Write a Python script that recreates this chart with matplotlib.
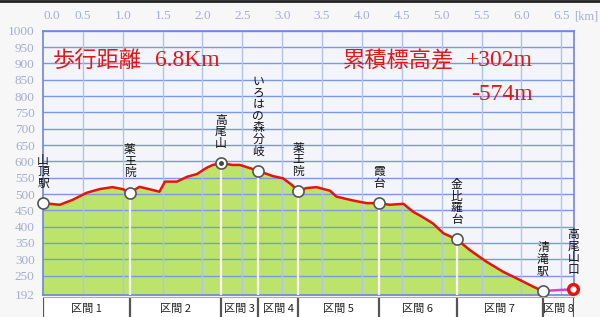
import numpy as np
import matplotlib
matplotlib.use("Agg")
import matplotlib.pyplot as plt

plt.rcParams['font.family'] = ['Noto Sans CJK JP', 'DejaVu Sans']

# =========================
# Data
# =========================
dist_km = [0.00, 0.21, 0.37, 0.55, 0.71, 0.87, 1.00, 1.09, 1.21, 1.33, 1.46, 1.53,
           1.68, 1.81, 1.93, 2.05, 2.13, 2.23, 2.38, 2.47, 2.70, 2.88, 3.01, 3.12,
           3.20, 3.30, 3.43, 3.60, 3.68, 3.89, 4.06, 4.21, 4.35, 4.52, 4.64, 4.75,
           4.89, 5.02, 5.19, 5.35, 5.56, 5.77, 5.98, 6.15, 6.27, 6.48, 6.65]
elev_m = [472, 467, 482, 504, 515, 521, 515, 504, 522, 515, 507, 538,
          538, 553, 561, 580, 589, 594, 589, 589, 571, 555, 548, 528,
          509, 518, 521, 510, 492, 480, 472, 472, 467, 470, 446, 431,
          410, 380, 361, 329, 293, 262, 237, 216, 203, 206, 208]

point_names = ["山頂駅", "薬王院", "高尾山", "いろはの森分岐", "薬王院", "霞台",
               "金比羅台", "清滝駅", "高尾山口"]
point_km = [0.00, 1.09, 2.23, 2.70, 3.20, 4.21, 5.19, 6.27, 6.65]
point_m = [472, 504, 594, 571, 509, 472, 361, 203, 208]

section_labels = ["区間 1", "区間 2", "区間 3", "区間 4", "区間 5", "区間 6", "区間 7", "区間 8"]

x_ticks = [0.0, 0.5, 1.0, 1.5, 2.0, 2.5, 3.0, 3.5, 4.0, 4.5, 5.0, 5.5, 6.0, 6.5]
y_ticks = [192, 250, 300, 350, 400, 450, 500, 550, 600, 650, 700, 750, 800, 850, 900, 950, 1000]

total_dist = "6.8Km"
gain_up = "+302m"
gain_down = "-574m"

# =========================
# Figure
# =========================
fig = plt.figure(figsize=(6.0, 3.17), dpi=100, facecolor='#f7f7f7')
ax = fig.add_axes([43/600, 1 - 294.6/317, (574 - 43)/600, (294.6 - 30.7)/317])
ax.set_facecolor('#f3f5fa')

xmax = 6.66
ymin, ymax = 192, 1000
ax.set_xlim(0, xmax)
ax.set_ylim(ymin, ymax)

dist = np.array(dist_km)
elev = np.array(elev_m)
end_fill = point_km[-2]
mask = dist <= end_fill + 1e-9

ax.fill_between(dist[mask], elev[mask], ymin, color='#bce46a', zorder=1)

# grid
for yt in range(250, 1001, 50):
    ax.axhline(yt, color='#7d98e2', lw=1.0, zorder=2)
for xt in x_ticks[1:]:
    ax.axvline(xt, color='#aec4ef', lw=1.0, zorder=2)

# white drop lines at waypoints
for km, m in zip(point_km[1:-1], point_m[1:-1]):
    ax.plot([km, km], [ymin, m], color='white', lw=1.6, zorder=3)

ax.plot(dist[mask], elev[mask], color='#e8140c', lw=1.8, zorder=4)
tail = dist >= end_fill - 1e-9
ax.plot(dist[tail], elev[tail], color='#e83cc8', lw=1.8, zorder=4)

# markers
for i, (km, m) in enumerate(zip(point_km, point_m)):
    if i == len(point_km) - 1:
        ax.plot(km, m, 'o', ms=7, mfc='white', mec='#e8140c', mew=2.5, zorder=6, clip_on=False)
    else:
        ax.plot(km, m, 'o', ms=8, mfc='white', mec='#555555', mew=1.2, zorder=6, clip_on=False)
    if point_names[i] == "高尾山":
        ax.plot(km, m, 'o', ms=2.5, color='#444444', zorder=7)

# waypoint labels, one character per row (vertical writing)
step_pt = 8.3
for name, km, m in zip(point_names, point_km, point_m):
    n = len(name)
    for k, ch in enumerate(name):
        ax.annotate(ch, (km, m), xytext=(0, 14.4 + (n - 1 - k) * step_pt),
                    textcoords='offset points', ha='center', va='center',
                    fontsize=8.5, color='#111111', zorder=8, annotation_clip=False)

# frame
for side in ['left', 'right', 'top', 'bottom']:
    ax.spines[side].set_color('#6f86dc')
    ax.spines[side].set_linewidth(1.2)

# ticks
ax.xaxis.tick_top()
ax.set_xticks(x_ticks)
ax.set_xticklabels([f"{t:.1f}" for t in x_ticks])
ax.set_yticks(y_ticks)
ax.set_yticklabels([str(t) for t in y_ticks])
ax.tick_params(length=0, colors='#a4aed4', labelsize=9.5, pad=6)
for lab in ax.get_xticklabels() + ax.get_yticklabels():
    lab.set_family(['Liberation Serif'])
ax.get_xticklabels()[0].set_horizontalalignment('left')
ax.text(1.0, 1.03, "[km]", transform=ax.transAxes, ha='left', va='bottom',
        fontsize=9, color='#a4aed4', family=['Liberation Serif'], clip_on=False)

# headline texts
cjk = dict(color='#e01818', fontsize=16, family=['Liberation Serif', 'Noto Sans CJK JP'], zorder=9)
num = dict(color='#e01818', fontsize=17, family=['Liberation Serif'], zorder=9)
ax.text(0.12, 904, "歩行距離", ha='left', va='center', **cjk)
ax.text(1.41, 908, total_dist, ha='left', va='center', **num)
ax.text(3.76, 906, "累積標高差", ha='left', va='center', **cjk)
ax.text(6.14, 910, gain_up, ha='right', va='center', **num)
ax.text(6.14, 806, gain_down, ha='right', va='center', **num)

# section row
sx = fig.add_axes([43/600, 0, (574 - 43)/600, (317 - 297)/317])
sx.set_facecolor('white')
sx.set_xlim(0, xmax)
sx.set_ylim(0, 1)
sx.set_xticks([])
sx.set_yticks([])
for side in ['left', 'right', 'bottom']:
    sx.spines[side].set_visible(False)
sx.spines['top'].set_color('#aaaaaa')
bounds = [0.0] + point_km[1:-1] + [xmax]
for b in bounds:
    sx.axvline(b, color='#555555', lw=1.6)
for j, lab in enumerate(section_labels):
    c = (bounds[j] + bounds[j + 1]) / 2
    sx.text(c, 0.42, lab, ha='center', va='center', fontsize=8, color='#222222', clip_on=True)

# dark top frame line
fig.add_artist(plt.Line2D([0, 1], [0.997, 0.997], color='#222222', lw=2, transform=fig.transFigure))

fig.savefig("out.png", dpi=100, facecolor=fig.get_facecolor())
